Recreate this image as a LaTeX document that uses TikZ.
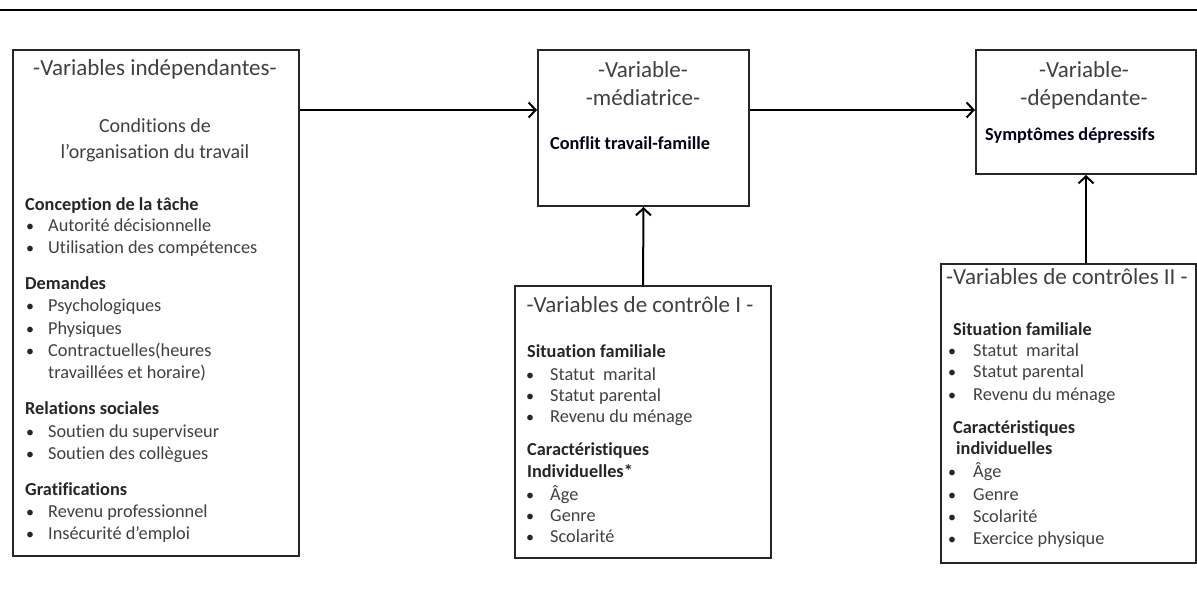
\documentclass[tikz,border=0pt]{standalone}
\usepackage{fontspec}
\setmainfont{Carlito}[Ligatures={NoCommon,NoRequired,NoContextual}]
\usetikzlibrary{arrows.meta}
\definecolor{txt}{HTML}{404040}
\definecolor{hdc}{HTML}{262626}
\begin{document}
\begin{tikzpicture}[x=1pt,y=-1pt,
  box/.style={draw=black!85, line width=2pt, inner sep=0pt, anchor=north west},
  arr/.style={-{Straight Barb[length=7pt,width=15pt,line width=2pt]}, line width=2pt},
  ttl/.style={font=\fontsize{23}{27}\selectfont, text=txt, anchor=mid, inner sep=0pt, yshift=-3pt},
  sub/.style={font=\fontsize{20}{24}\selectfont, text=txt, anchor=mid, inner sep=0pt, yshift=-3pt},
  hd/.style={font=\fontsize{18.3}{22}\selectfont\bfseries, text=hdc, anchor=mid west, inner sep=0pt, yshift=-3pt},
  itm/.style={font=\fontsize{18.3}{22}\selectfont, text=txt, anchor=mid west, inner sep=0pt, yshift=-3pt},
  bul/.style={font=\fontsize{16}{20}\selectfont, text=hdc, anchor=mid, inner sep=0pt, yshift=-3pt},
]
\useasboundingbox (0,0) rectangle (1197,604);
% top rule
\draw[line width=2.5pt] (0,10) -- (1197,10);
% boxes
\node[box, minimum width=286, minimum height=506] (A) at (12,49) {};
\node[box, minimum width=211, minimum height=156] (B) at (537,49) {};
\node[box, minimum width=256, minimum height=272] (C) at (514,285) {};
\node[box, minimum width=220, minimum height=124] (D) at (975,49) {};
\node[box, minimum width=255, minimum height=299] (E) at (940,263) {};
% connector levels
\coordinate (ay) at (0,110);
\draw[arr] (A.east |- ay) -- (B.west |- ay);
\draw[arr] (B.east |- ay) -- (D.west |- ay);
\draw[arr] (C.north) -- (B.south);
\draw[arr] (E.north -| D.south) -- (D.south);
% box A
\node[ttl] (a0) at (155,70) {-Variables indépendantes-};
\node[sub] (a1) at (155,127) {Conditions de};
\node[sub] (a2) at (155,153) {l’organisation du travail};
\node[hd] (a3) at (25,205) {Conception de la tâche};
\node[bul] (a4b) at (30,226) {•}; \node[itm] (a4) at (48,226) {Autorité décisionnelle};
\node[bul] (a5b) at (30,248) {•}; \node[itm] (a5) at (48,248) {Utilisation des compétences};
\node[hd] (a6) at (25,284) {Demandes};
\node[bul] (a7b) at (30,306) {•}; \node[itm] (a7) at (48,306) {Psychologiques};
\node[bul] (a8b) at (30,329) {•}; \node[itm] (a8) at (48,329) {Physiques};
\node[bul] (a9b) at (30,351) {•}; \node[itm] (a9) at (48,351) {Contractuelles(heures};
\node[itm] (a10) at (48,373) {travaillées et horaire)};
\node[hd] (a11) at (25,409) {Relations sociales};
\node[bul] (a12b) at (30,432) {•}; \node[itm] (a12) at (48,432) {Soutien du superviseur};
\node[bul] (a13b) at (30,454) {•}; \node[itm] (a13) at (48,454) {Soutien des collègues};
\node[hd] (a14) at (25,490) {Gratifications};
\node[bul] (a15b) at (30,512) {•}; \node[itm] (a15) at (48,512) {Revenu professionnel};
\node[bul] (a16b) at (30,534) {•}; \node[itm] (a16) at (48,534) {Insécurité d’emploi};
% box B
\node[ttl] (b0) at (643,72) {-Variable-};
\node[ttl] (b1) at (643,100) {-médiatrice-};
\node[hd, text=black!90!blue] (b2) at (550,144) {Conflit travail-famille};
% box C
\node[ttl] (c0) at (640,307) {-Variables\ de\ contrôle\ I -};
\node[hd] (c1) at (527,352) {Situation familiale};
\node[bul] (c2b) at (530,375) {•}; \node[itm] (c2) at (550,375) {Statut\ \ marital};
\node[bul] (c3b) at (530,396) {•}; \node[itm] (c3) at (550,396) {Statut parental};
\node[bul] (c4b) at (530,417) {•}; \node[itm] (c4) at (550,417) {Revenu du ménage};
\node[hd] (c5) at (527,450) {Caractéristiques};
\node[hd] (c6) at (527,472) {Individuelles*};
\node[bul] (c7b) at (530,495) {•}; \node[itm] (c7) at (550,495) {Âge};
\node[bul] (c8b) at (530,516) {•}; \node[itm] (c8) at (550,516) {Genre};
\node[bul] (c9b) at (530,537) {•}; \node[itm] (c9) at (550,537) {Scolarité};
% box D
\node[ttl] (d0) at (1084,72) {-Variable-};
\node[ttl] (d1) at (1084,100) {-dépendante-};
\node[hd, text=black!90!blue] (d2) at (985,135) {Symptômes\ dépressifs};
% box E
\node[ttl] (e0) at (1067,279) {-Variables de contrôles II -};
\node[hd] (e1) at (953,330) {Situation familiale};
\node[bul] (e2b) at (952,351) {•}; \node[itm] (e2) at (973,351) {Statut\ \ marital};
\node[bul] (e3b) at (952,372) {•}; \node[itm] (e3) at (973,372) {Statut parental};
\node[bul] (e4b) at (952,395) {•}; \node[itm] (e4) at (973,395) {Revenu du ménage};
\node[hd] (e5) at (953,428) {Caractéristiques};
\node[hd] (e6) at (956,449) {individuelles};
\node[bul] (e7b) at (952,472) {•}; \node[itm] (e7) at (973,472) {Âge};
\node[bul] (e8b) at (952,495) {•}; \node[itm] (e8) at (973,495) {Genre};
\node[bul] (e9b) at (952,517) {•}; \node[itm] (e9) at (973,517) {Scolarité};
\node[bul] (e10b) at (952,539) {•}; \node[itm] (e10) at (973,539) {Exercice physique};
\end{tikzpicture}
\end{document}
